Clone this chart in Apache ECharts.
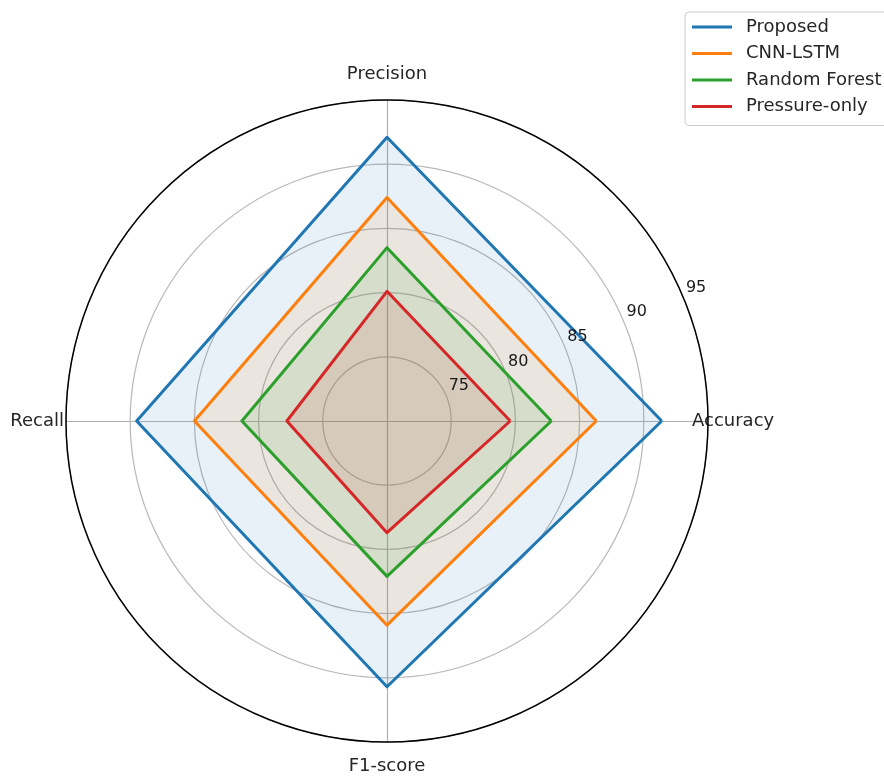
<!DOCTYPE html>
<html>
<head>
<meta charset="utf-8">
<title>Model comparison radar</title>
<script src="https://cdn.jsdelivr.net/npm/echarts@6/dist/echarts.min.js"></script>
<style>
  html, body { margin: 0; padding: 0; background: #fff; }
  #chart { width: 884px; height: 778px; }
</style>
</head>
<body>
<div id="chart"></div>
<script>
// Metrics shown on the spokes (counter-clockwise from the right)
const metrics = ['Accuracy', 'Precision', 'Recall', 'F1-score'];

// Scores (%) per model, in the same order as metrics
const proposed = [91.4, 92.1, 89.5, 90.7];
const cnnLstm = [86.3, 87.4, 85.0, 85.9];
const randomForest = [82.8, 83.5, 81.3, 82.1];
const pressureOnly = [79.6, 80.1, 77.8, 78.7];

const modelNames = ['Proposed', 'CNN-LSTM', 'Random Forest', 'Pressure-only'];
const modelValues = [proposed, cnnLstm, randomForest, pressureOnly];
const modelColors = ['#1f77b4', '#ff7f0e', '#2ca02c', '#d62728'];

// Radial scale
const radialMin = 70;
const radialMax = 95;
const radialTicks = [75, 80, 85, 90, 95];

const center = [387, 421];
const radius = 321;
const tickLabelAngle = 22.5; // degrees

const fontFamily = '"DejaVu Sans", sans-serif';
const textColor = '#262626';

// rich-text keys for each spoke label, so each one can be nudged to sit centred off the rim
const nameKeys = { 'Accuracy': 'acc', 'Precision': 'prec', 'Recall': 'rec', 'F1-score': 'f1' };

const chart = echarts.init(document.getElementById('chart'), null, { renderer: 'canvas' });

// Radial tick labels sit just outside each ring along a fixed angle
const tickGraphics = radialTicks.map(function (v) {
  const r = (v - radialMin) / (radialMax - radialMin) * radius;
  const a = tickLabelAngle * Math.PI / 180;
  return {
    type: 'text',
    x: center[0] + r * Math.cos(a) + 12.5,
    y: center[1] - r * Math.sin(a) - 10.5,
    z: 20,
    style: {
      text: String(v),
      fill: '#1a1a1a',
      font: '16px ' + fontFamily,
      align: 'center',
      verticalAlign: 'middle'
    }
  };
});

const series = modelNames.map(function (name, i) {
  return {
    type: 'radar',
    name: name,
    symbol: 'none',
    z: 2 + i,
    color: modelColors[i],
    itemStyle: { color: modelColors[i] },
    lineStyle: { color: modelColors[i], width: 3 },
    areaStyle: { color: modelColors[i], opacity: 0.1 },
    data: [{ name: name, value: modelValues[i] }]
  };
});

chart.setOption({
  animation: false,
  backgroundColor: '#ffffff',
  color: modelColors,
  textStyle: { fontFamily: fontFamily },
  legend: {
    data: modelNames,
    orient: 'vertical',
    left: 685,
    top: 12,
    padding: [5, 10, 9, 7],
    itemGap: 6.5,
    itemWidth: 40,
    itemHeight: 3,
    icon: 'rect',
    backgroundColor: 'rgba(255,255,255,0.85)',
    borderColor: '#cccccc',
    borderWidth: 1,
    borderRadius: 4,
    textStyle: {
      fontSize: 18,
      color: textColor,
      fontFamily: fontFamily,
      lineHeight: 20,
      padding: [0, 0, 0, 9]
    }
  },
  polar: { center: center, radius: radius },
  angleAxis: {
    type: 'value',
    min: 0,
    max: 360,
    z: 10,
    axisLine: { show: true, lineStyle: { color: '#000000', width: 1.5 } },
    axisTick: { show: false },
    axisLabel: { show: false },
    splitLine: { show: false }
  },
  radiusAxis: {
    type: 'value',
    min: radialMin,
    max: radialMax,
    show: false,
    axisLine: { show: false },
    splitLine: { show: false }
  },
  radar: {
    center: center,
    radius: radius,
    startAngle: 0,
    shape: 'circle',
    splitNumber: 5,
    indicator: metrics.map(function (m) {
      return { name: m, min: radialMin, max: radialMax };
    }),
    nameGap: -20,
    axisName: {
      color: textColor,
      fontSize: 18,
      fontFamily: fontFamily,
      formatter: function (name) {
        return '{' + nameKeys[name] + '|' + name + '}';
      },
      rich: {
        acc: { fontSize: 18, color: textColor, padding: [0, 0, 0, 4] },
        prec: { fontSize: 18, color: textColor, padding: [0, 0, 37, 0] },
        rec: { fontSize: 18, color: textColor, padding: [0, 22, 0, 0] },
        f1: { fontSize: 18, color: textColor, padding: [35, 0, 0, 0] }
      }
    },
    axisLine: { lineStyle: { color: '#b0b0b0', width: 1.2 } },
    splitLine: { lineStyle: { color: '#b8b8b8', width: 1.2 } },
    splitArea: { show: false },
    axisTick: { show: false },
    axisLabel: { show: false }
  },
  graphic: tickGraphics,
  series: series
});
</script>
</body>
</html>
